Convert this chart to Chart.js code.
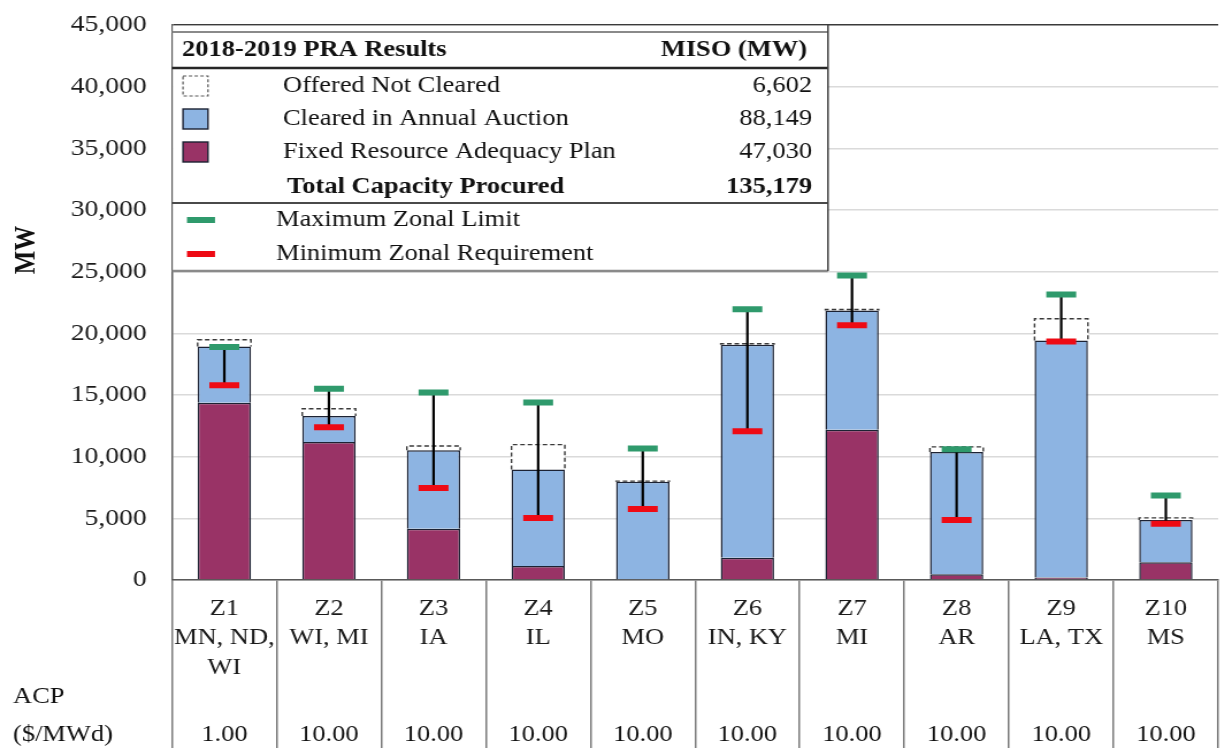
<!DOCTYPE html>
<html>
<head>
<meta charset="utf-8">
<script src="https://cdn.jsdelivr.net/npm/chart.js@4.4.1/dist/chart.umd.min.js"></script>
<style>
  html, body { margin: 0; padding: 0; background: #fff; overflow: hidden; }
  #wrap { position: relative; width: 1220px; height: 748px; overflow: hidden; }
  #chart { position: absolute; left: 0; top: 0; }
</style>
</head>
<body>
<div id="wrap"><canvas id="chart" width="1078" height="748" style="width:1240px;height:748px"></canvas></div>
<script>
// zones, states and clearing prices
var zones = ['Z1', 'Z2', 'Z3', 'Z4', 'Z5', 'Z6', 'Z7', 'Z8', 'Z9', 'Z10'];
var states = [['MN, ND,', 'WI'], ['WI, MI'], ['IA'], ['IL'], ['MO'], ['IN, KY'], ['MI'], ['AR'], ['LA, TX'], ['MS']];
var acp = [1, 10, 10, 10, 10, 10, 10, 10, 10, 10];

// MW per zone
var frap = [14380, 11190, 4150, 1130, 0, 1810, 12190, 460, 200, 1430];
var cleared = [4560, 2110, 6370, 7830, 7960, 17260, 9660, 9920, 19220, 3430];
var offeredNotCleared = [540, 590, 350, 2020, 60, 80, 80, 410, 1760, 180];
var maxZonalLimit = [18900, 15510, 15210, 14400, 10660, 21960, 24680, 10600, 23150, 6850];
var minZonalReq = [15800, 12380, 7450, 5020, 5750, 12060, 20660, 4860, 19340, 4560];

// summary table
var tableTitle = '2018-2019 PRA Results';
var tableUnit = 'MISO (MW)';
var seriesNames = ['Offered Not Cleared', 'Cleared in Annual Auction', 'Fixed Resource Adequacy Plan'];
var seriesTotals = [6602, 88149, 47030];
var totalName = 'Total Capacity Procured';
var totalValue = 135179;
var limitNames = ['Maximum Zonal Limit', 'Minimum Zonal Requirement'];

var MAROON = '#993366';
var BLUE = '#8DB4E2';
var GREEN = '#2F9A6C';
var RED = '#EE0A14';
var EDGE = '#1C2233';
var SERIF = '"Liberation Serif", "Times New Roman", serif';

// the reference is stretched sideways, so the canvas is too
var SX = 1240 / 1078;
function px(css) { return css / SX; }

Chart.defaults.font.family = SERIF;
Chart.defaults.color = '#1a1a1a';

function fmt(v) { return v.toLocaleString('en-US'); }

// dashed outline for the offered-not-cleared segments
var dashedPlugin = {
    id: 'dashedOffer',
    afterDatasetDraw: function(chart, args) {
        if (args.index !== 2) return;
        var ctx = chart.ctx;
        ctx.save();
        ctx.strokeStyle = '#3a3a3a';
        ctx.lineWidth = 1.4;
        ctx.setLineDash([4, 2.5]);
        args.meta.data.forEach(function(bar) {
            var p = bar.getProps(['x', 'y', 'base', 'width'], true);
            var l = p.x - p.width / 2, r = p.x + p.width / 2;
            ctx.beginPath();
            ctx.moveTo(l, p.base);
            ctx.lineTo(l, p.y);
            ctx.lineTo(r, p.y);
            ctx.lineTo(r, p.base);
            ctx.stroke();
        });
        ctx.restore();
    }
};

// black whisker between min requirement and max limit
var whiskerPlugin = {
    id: 'whiskers',
    beforeDatasetDraw: function(chart, args) {
        if (args.index !== 3) return;
        var ctx = chart.ctx;
        var xs = chart.scales.x, ys = chart.scales.yCaps;
        ctx.save();
        ctx.strokeStyle = '#000';
        ctx.lineWidth = 2.2;
        for (var i = 0; i < zones.length; i++) {
            var x = xs.getPixelForValue(i);
            ctx.beginPath();
            ctx.moveTo(x, ys.getPixelForValue(maxZonalLimit[i]));
            ctx.lineTo(x, ys.getPixelForValue(minZonalReq[i]));
            ctx.stroke();
        }
        ctx.restore();
    }
};

function hline(ctx, x1, x2, y, color, w) {
    ctx.beginPath();
    ctx.strokeStyle = color;
    ctx.lineWidth = w;
    ctx.moveTo(x1, y);
    ctx.lineTo(x2, y);
    ctx.stroke();
}

// summary table, axis title and ACP row
var extrasPlugin = {
    id: 'extras',
    afterDraw: function(chart) {
        var ctx = chart.ctx, area = chart.chartArea;
        var L = area.left, T = area.top, W = px(656), H = 246;
        ctx.save();

        ctx.fillStyle = '#fff';
        ctx.fillRect(L + 0.8, T + 0.8, W - 0.8, H);
        hline(ctx, L, L + W, T + 7, '#8a8a8a', 2);
        hline(ctx, L, L + W, T + 43, '#262626', 2.5);
        hline(ctx, L, L + W, T + 178, '#4a4a4a', 2);
        hline(ctx, L, L + W, T + H, '#8a8a8a', 2.5);
        ctx.beginPath();
        ctx.strokeStyle = '#404040';
        ctx.lineWidth = 1.5;
        ctx.moveTo(L + W, T);
        ctx.lineTo(L + W, T + H);
        ctx.stroke();

        ctx.textBaseline = 'middle';
        ctx.fillStyle = '#111';
        ctx.font = 'bold 23px ' + SERIF;
        ctx.textAlign = 'left';
        ctx.fillText(tableTitle, L + px(10), T + 25);
        ctx.textAlign = 'right';
        ctx.fillText(tableUnit, L + px(635), T + 25);

        var rowY = [T + 61, T + 94, T + 127];
        var sw = px(25);
        ctx.font = '23px ' + SERIF;
        for (var i = 0; i < seriesNames.length; i++) {
            ctx.textAlign = 'left';
            ctx.fillStyle = '#111';
            ctx.fillText(seriesNames[i], L + px(111), rowY[i]);
            ctx.textAlign = 'right';
            ctx.fillText(fmt(seriesTotals[i]), L + px(640), rowY[i]);
        }
        // swatches
        ctx.save();
        ctx.setLineDash([3, 2]);
        ctx.strokeStyle = '#555';
        ctx.lineWidth = 1.2;
        ctx.strokeRect(L + px(11), rowY[0] - 10, sw, 20);
        ctx.restore();
        ctx.fillStyle = BLUE;
        ctx.fillRect(L + px(11), rowY[1] - 10, sw, 20);
        ctx.fillStyle = MAROON;
        ctx.fillRect(L + px(11), rowY[2] - 10, sw, 20);
        ctx.strokeStyle = EDGE;
        ctx.lineWidth = 1.4;
        ctx.strokeRect(L + px(11), rowY[1] - 10, sw, 20);
        ctx.strokeRect(L + px(11), rowY[2] - 10, sw, 20);

        ctx.fillStyle = '#111';
        ctx.font = 'bold 23px ' + SERIF;
        ctx.textAlign = 'left';
        ctx.fillText(totalName, L + px(115), T + 162);
        ctx.textAlign = 'right';
        ctx.fillText(fmt(totalValue), L + px(640), T + 162);

        ctx.font = '23px ' + SERIF;
        ctx.textAlign = 'left';
        var limY = [T + 195, T + 229];
        var limC = [GREEN, RED];
        for (var j = 0; j < limitNames.length; j++) {
            ctx.fillStyle = limC[j];
            ctx.fillRect(L + px(15), limY[j] - 3, px(28), 6);
            ctx.fillStyle = '#111';
            ctx.fillText(limitNames[j], L + px(104), limY[j]);
        }

        // y axis title
        ctx.save();
        ctx.translate(px(27), 250);
        ctx.rotate(-Math.PI / 2);
        ctx.font = 'bold 25px ' + SERIF;
        ctx.textAlign = 'center';
        ctx.fillStyle = '#111';
        ctx.fillText('MW', 0, 0);
        ctx.restore();

        // ACP row
        var xs = chart.scales.x;
        ctx.font = '23px ' + SERIF;
        ctx.fillStyle = '#111';
        ctx.textAlign = 'center';
        for (var k = 0; k < acp.length; k++) {
            ctx.fillText(acp[k].toFixed(2), xs.getPixelForValue(k), 735);
        }
        ctx.textAlign = 'left';
        ctx.fillText('ACP', px(13), 697);
        ctx.fillText('($/MWd)', px(13), 735);
        ctx.restore();
    }
};

var labels = zones.map(function(z, i) { return [z].concat(states[i]); });

var ctx = document.getElementById('chart').getContext('2d');
new Chart(ctx, {
    type: 'bar',
    data: {
        labels: labels,
        datasets: [{
            label: seriesNames[2],
            data: frap,
            backgroundColor: MAROON,
            borderColor: EDGE,
            borderWidth: 1.5
        }, {
            label: seriesNames[1],
            data: cleared,
            backgroundColor: BLUE,
            borderColor: EDGE,
            borderWidth: 1.5
        }, {
            label: seriesNames[0],
            data: offeredNotCleared,
            backgroundColor: '#fff',
            borderWidth: 0
        }, {
            type: 'line',
            label: limitNames[0],
            data: maxZonalLimit,
            yAxisID: 'yCaps',
            order: -1,
            showLine: false,
            pointStyle: 'line',
            pointRadius: 13,
            pointHoverRadius: 13,
            pointBorderWidth: 6,
            pointHoverBorderWidth: 6,
            pointBorderColor: GREEN
        }, {
            type: 'line',
            label: limitNames[1],
            data: minZonalReq,
            yAxisID: 'yCaps',
            order: -2,
            showLine: false,
            pointStyle: 'line',
            pointRadius: 13,
            pointHoverRadius: 13,
            pointBorderWidth: 6,
            pointHoverBorderWidth: 6,
            pointBorderColor: RED
        }]
    },
    options: {
        responsive: false,
        animation: false,
        events: [],
        layout: { padding: { top: 25, left: 0, right: 5, bottom: 0 } },
        datasets: {
            bar: { categoryPercentage: 1, barPercentage: 0.51 }
        },
        plugins: {
            legend: { display: false },
            tooltip: { enabled: false }
        },
        scales: {
            x: {
                stacked: true,
                offset: true,
                grid: {
                    offset: true,
                    drawOnChartArea: false,
                    drawTicks: true,
                    tickLength: 168,
                    color: '#7a7a7a',
                    lineWidth: 1.5
                },
                border: { display: true, color: '#595959', width: 1.5 },
                ticks: {
                    padding: -154,
                    autoSkip: false,
                    maxRotation: 0,
                    minRotation: 0,
                    color: '#1a1a1a',
                    font: { size: 23, lineHeight: 29.5 / 23 }
                },
                afterFit: function(scale) { scale.height = 168; }
            },
            y: {
                stacked: true,
                min: 0,
                max: 45000,
                ticks: {
                    stepSize: 5000,
                    padding: 0,
                    color: '#1a1a1a',
                    font: { size: 24 },
                    callback: function(v) { return fmt(v); }
                },
                grid: {
                    drawTicks: true,
                    tickLength: 22,
                    tickColor: 'rgba(0,0,0,0)',
                    lineWidth: 1.5,
                    color: function(c) { return c.tick && c.tick.value === 45000 ? '#3a3a3a' : '#dadada'; }
                },
                border: { display: true, color: '#595959', width: 1.5 },
                afterFit: function(scale) { scale.width = px(172); }
            },
            yCaps: {
                display: false,
                stacked: false,
                min: 0,
                max: 45000
            }
        }
    },
    plugins: [dashedPlugin, whiskerPlugin, extrasPlugin]
});
</script>
</body>
</html>
